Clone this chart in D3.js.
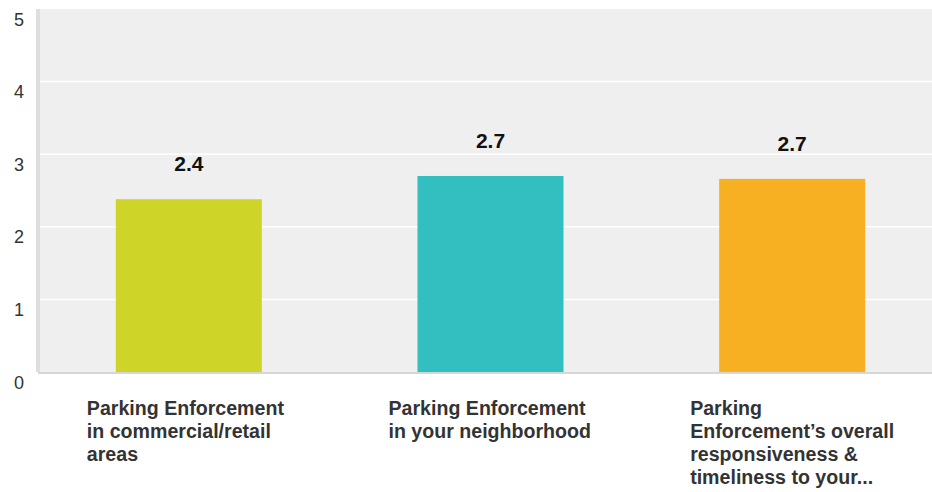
<!DOCTYPE html>
<html>
<head>
<meta charset="utf-8">
<script src="https://cdn.jsdelivr.net/npm/d3@7/dist/d3.min.js"></script>
<style>
  html, body { margin: 0; padding: 0; background: #fff; }
  svg { display: block; font-family: "Liberation Sans", Arial, sans-serif; }
</style>
</head>
<body>
<svg id="chart" width="932" height="492"></svg>
<script>
// Survey ratings (average score, 0–5 scale)
const categories = [
  "Parking Enforcement in commercial/retail areas",
  "Parking Enforcement in your neighborhood",
  "Parking Enforcement\u2019s overall responsiveness & timeliness to your..."
];
const values = [2.38, 2.70, 2.66];
const barColors = ["#cfd528", "#33bec0", "#f7b021"];
const yTicks = [0, 1, 2, 3, 4, 5];

const svg = d3.select("#chart");

const plot = { left: 40, right: 932, top: 9, bottom: 372 };

const y = d3.scaleLinear().domain([0, 5]).range([plot.bottom, plot.top]);
const x = d3.scaleBand()
  .domain(categories)
  .range([38, 943])
  .paddingInner(0.516)
  .paddingOuter(0.258);

// Plot background and frame strips
svg.append("rect")
  .attr("x", plot.left).attr("y", plot.top)
  .attr("width", plot.right - plot.left).attr("height", plot.bottom - plot.top)
  .attr("fill", "#efefef");
svg.append("rect")
  .attr("x", 36).attr("y", plot.top)
  .attr("width", 4).attr("height", plot.bottom - plot.top)
  .attr("fill", "#dedede");
svg.append("rect")
  .attr("x", 38).attr("y", plot.bottom)
  .attr("width", plot.right - 38).attr("height", 2)
  .attr("fill", "#d6d6d6");

// Horizontal gridlines
svg.append("g")
  .selectAll("line")
  .data(yTicks.filter(t => t > 0 && t < 5))
  .join("line")
  .attr("x1", plot.left).attr("x2", plot.right)
  .attr("y1", d => y(d)).attr("y2", d => y(d))
  .attr("stroke", "#ffffff")
  .attr("stroke-width", 1.5);

// Y axis labels (drawn below each gridline)
const yAxis = d3.axisLeft(y).tickValues(yTicks).tickSize(0).tickFormat(d3.format("d"));
const yAxisG = svg.append("g")
  .attr("transform", "translate(24,0)")
  .call(yAxis)
  .attr("font-size", 18)
  .attr("font-family", "'Liberation Sans', Arial, sans-serif");
yAxisG.select(".domain").remove();
yAxisG.selectAll("text")
  .attr("x", 0)
  .attr("dy", null)
  .attr("y", 16)
  .attr("text-anchor", "end")
  .attr("fill", "#333");

// Bars
svg.append("g")
  .selectAll("rect")
  .data(categories)
  .join("rect")
  .attr("x", d => x(d))
  .attr("width", x.bandwidth())
  .attr("y", (d, i) => y(values[i]))
  .attr("height", (d, i) => y(0) - y(values[i]))
  .attr("fill", (d, i) => barColors[i]);

// Value labels above bars
const fmt = d3.format(".1f");
svg.append("g")
  .selectAll("text")
  .data(categories)
  .join("text")
  .attr("x", d => x(d) + x.bandwidth() / 2)
  .attr("y", (d, i) => y(values[i]) - 28)
  .attr("text-anchor", "middle")
  .attr("font-size", 21)
  .attr("font-weight", "bold")
  .attr("fill", "#111")
  .text((d, i) => fmt(values[i]));

// Category labels, wrapped to a fixed width
const wrapWidth = 212;
const lineHeight = 23;
const catG = svg.append("g");
categories.forEach(cat => {
  const t = catG.append("text")
    .attr("x", x(cat) + x.bandwidth() / 2 - 102)
    .attr("y", 415)
    .attr("font-size", 19.6)
    .attr("font-weight", "bold")
    .attr("fill", "#333");
  const words = cat.split(" ");
  let line = [];
  let tspan = t.append("tspan").attr("x", t.attr("x")).attr("dy", 0);
  words.forEach(w => {
    line.push(w);
    tspan.text(line.join(" "));
    if (tspan.node().getComputedTextLength() > wrapWidth && line.length > 1) {
      line.pop();
      tspan.text(line.join(" "));
      line = [w];
      tspan = t.append("tspan")
        .attr("x", t.attr("x"))
        .attr("dy", lineHeight)
        .text(w);
    }
  });
});
</script>
</body>
</html>
